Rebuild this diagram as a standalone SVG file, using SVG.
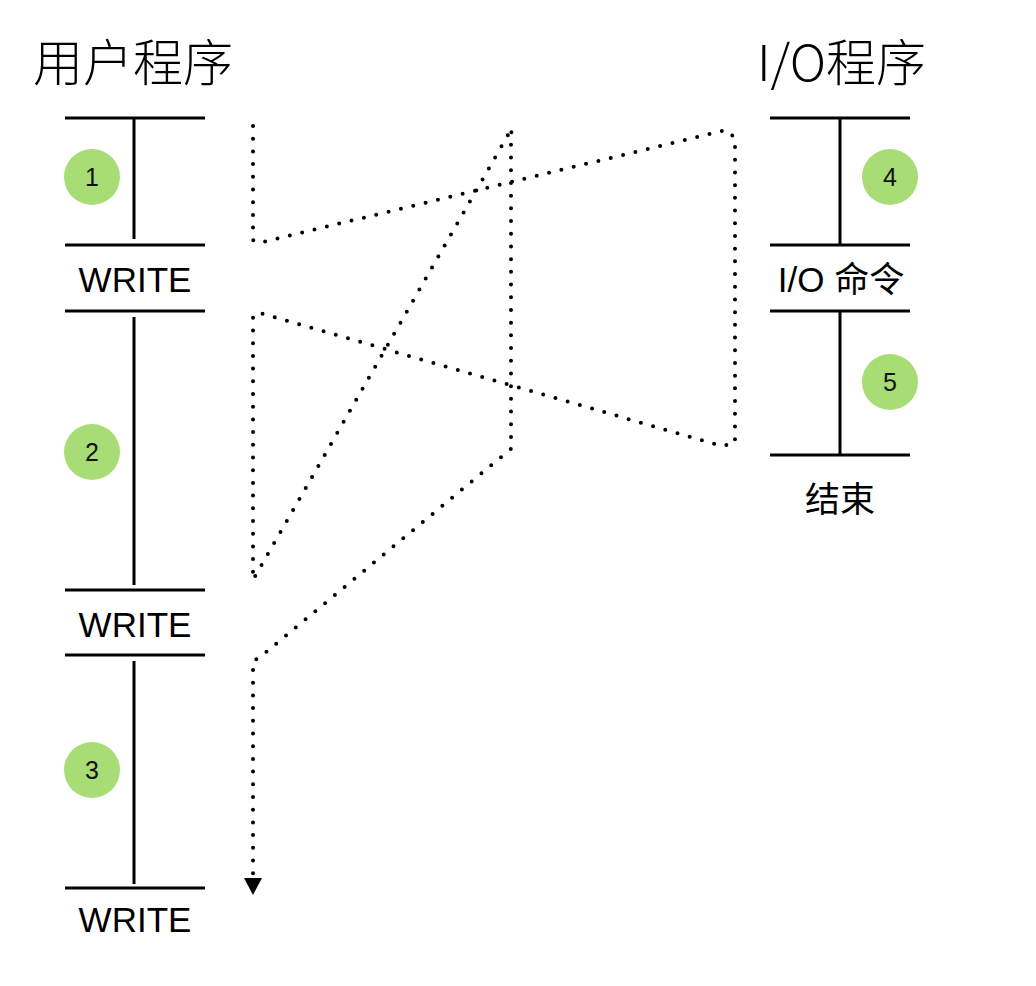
<svg xmlns="http://www.w3.org/2000/svg" width="1036" height="986" viewBox="0 0 1036 986">
<style>
.bar{stroke:#000;stroke-width:3;fill:none}
.dot{stroke:#000;stroke-width:4;fill:none;stroke-linecap:round;stroke-linejoin:round;stroke-dasharray:0 12.7}
.c{fill:#a8dc74}
.n{font-family:"Liberation Sans","Noto Sans",sans-serif;font-size:25px;fill:#111;text-anchor:middle}
.lbl{font-family:"Liberation Sans","Noto Sans CJK SC",sans-serif;font-size:35px;fill:#000;text-anchor:middle}
.title{font-family:"Noto Sans CJK SC","Liberation Sans",sans-serif;font-size:50px;font-weight:300;fill:#000}
</style>
<defs>
<marker id="arr" markerUnits="userSpaceOnUse" markerWidth="20" markerHeight="20" refX="2" refY="9" orient="auto">
<path d="M0,0 L17,9 L0,18 Z" fill="#000"/>
</marker>
</defs>
<rect width="1036" height="986" fill="#fff"/>
<g id="title-user"><text class="title" x="33" y="81">用户程序</text></g>
<g id="title-io"><text class="title" x="757" y="81">I/O程序</text></g>

<g id="user-seg1">
<line class="bar" x1="65" y1="118" x2="205" y2="118"/>
<line class="bar" x1="134" y1="118" x2="134" y2="239"/>
<line class="bar" x1="65" y1="245" x2="205" y2="245"/>
<circle class="c" cx="92" cy="177" r="28"/><text class="n" x="92" y="186">1</text>
</g>
<g id="user-write1"><text class="lbl" x="135" y="292">WRITE</text></g>
<g id="user-seg2">
<line class="bar" x1="65" y1="311" x2="205" y2="311"/>
<line class="bar" x1="134" y1="317" x2="134" y2="585"/>
<line class="bar" x1="65" y1="590" x2="205" y2="590"/>
<circle class="c" cx="92" cy="452" r="28"/><text class="n" x="92" y="461">2</text>
</g>
<g id="user-write2"><text class="lbl" x="135" y="637">WRITE</text></g>
<g id="user-seg3">
<line class="bar" x1="65" y1="655" x2="205" y2="655"/>
<line class="bar" x1="134" y1="661" x2="134" y2="884"/>
<line class="bar" x1="65" y1="888" x2="205" y2="888"/>
<circle class="c" cx="92" cy="770" r="28"/><text class="n" x="92" y="779">3</text>
</g>
<g id="user-write3"><text class="lbl" x="135" y="932">WRITE</text></g>

<g id="io-seg4">
<line class="bar" x1="770" y1="118" x2="910" y2="118"/>
<line class="bar" x1="840" y1="118" x2="840" y2="245"/>
<line class="bar" x1="770" y1="245" x2="910" y2="245"/>
<circle class="c" cx="890" cy="177" r="28"/><text class="n" x="890" y="186">4</text>
</g>
<g id="io-cmd"><text class="lbl" x="841" y="292" font-size="36">I/O 命令</text></g>
<g id="io-seg5">
<line class="bar" x1="770" y1="311" x2="910" y2="311"/>
<line class="bar" x1="840" y1="311" x2="840" y2="455"/>
<line class="bar" x1="770" y1="455" x2="910" y2="455"/>
<circle class="c" cx="890" cy="382" r="28"/><text class="n" x="890" y="391">5</text>
</g>
<g id="io-end"><text class="lbl" x="840" y="512">结束</text></g>

<g id="connectors">
<path class="dot" marker-end="url(#arr)" d="M253,126 L253,240 L259,243 L726,130 L735,138 L735,443 L722,446 L260,313 L253,315 L253,580 L512,128 L511,135 L511,440 L512,448 L259,658 L253,661 L253,880"/>
</g>
</svg>
